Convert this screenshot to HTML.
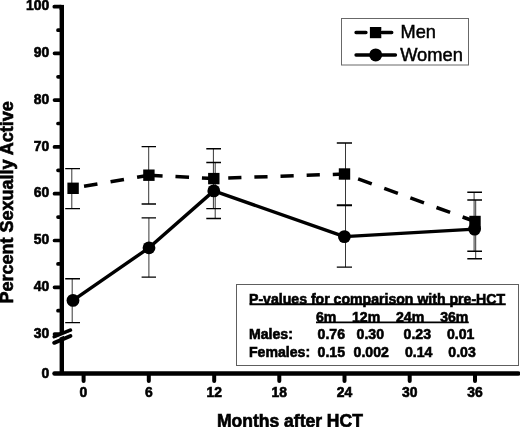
<!DOCTYPE html>
<html>
<head>
<meta charset="utf-8">
<title>Percent Sexually Active</title>
<style>
html,body{margin:0;padding:0;background:#fff;}
body{width:520px;height:427px;overflow:hidden;}
svg{display:block;font-family:"Liberation Sans",sans-serif;}
.b{font-weight:bold;}
</style>
</head>
<body>
<svg width="520" height="427" viewBox="0 0 520 427" style="filter:grayscale(1) blur(0.35px)">
<rect x="0" y="0" width="520" height="427" fill="#fff"/>

<!-- error bars -->
<path d="M71.8 168.6V208.6M148.7 146.6V204M213.4 148.7V208.6M345.5 143V204.9M474.1 192.2V251.3M72.2 278.7V322.6M148.9 217.9V277.1M215.2 162.5V218.5M345.5 205.6V267.1M475.7 200V258.8" stroke="#2c2c2c" stroke-width="0.95" fill="none"/>
<path d="M65.2 168.6H80M65.2 208.6H80M141.6 146.6H156M141.6 204H156M206.3 148.7H221M206.3 208.6H221M336.8 143H352M336.8 204.9H352M467.3 192.2H482M467.3 251.3H482M65.2 278.7H80M65.2 322.6H80M141.6 217.9H156M141.6 277.1H156M206.3 162.5H221M206.3 218.5H221M336.8 205.6H352M336.8 267.1H352M467.3 200H482M467.3 258.8H482" stroke="#000" stroke-width="1.4" fill="none"/>

<!-- lines -->
<g fill="none" stroke="#000" stroke-width="3.5">
  <path d="M73 188.2L149 175.2" stroke-dasharray="13.6 13.3" stroke-dashoffset="15.7"/>
  <path d="M149 175.2L213.7 178.5" stroke-dasharray="13.6 12.9" stroke-dashoffset="0"/>
  <path d="M213.7 178.5L344.5 174" stroke-dasharray="13.2 12.95" stroke-dashoffset="11.6"/>
  <path d="M344.5 174L475 221.5" stroke-dasharray="14.5 13.3" stroke-dashoffset="13.3"/>
</g>
<polyline points="73,300.4 149,247.8 213.8,190.9 344.4,236.6 474.6,229.1" fill="none" stroke="#000" stroke-width="3.4" stroke-linejoin="round"/>

<!-- markers -->
<g fill="#000">
  <rect x="67.4" y="182.6" width="11.4" height="11.4"/>
  <rect x="143.2" y="169.5" width="11.4" height="11.4"/>
  <rect x="208.1" y="172.9" width="11.4" height="11.4"/>
  <rect x="338.8" y="168.3" width="11.4" height="11.4"/>
  <rect x="469.3" y="215.8" width="11.4" height="11.4"/>
  <circle cx="73" cy="300.4" r="6.4"/>
  <circle cx="149" cy="247.8" r="6.4"/>
  <circle cx="213.8" cy="190.9" r="6.4"/>
  <circle cx="344.4" cy="236.6" r="6.4"/>
  <circle cx="474.6" cy="229.1" r="6.4"/>
</g>

<!-- axes -->
<g stroke="#000" fill="none" stroke-linecap="round">
  <!-- y axis -->
  <path d="M61.8 6.5V373.5" stroke-width="4.4" stroke-linecap="butt"/>
  <path d="M61.8 4.9V10" stroke-width="4.4" stroke-linecap="butt"/>
  <!-- x axis -->
  <path d="M54.5 373.55H518.4" stroke-width="4.5"/>
  <!-- y major ticks -->
  <g stroke-width="3.7">
    <path d="M54.3 6.7H61M54.5 53.3H61M54.5 100.1H61M54.5 146.9H61M54.5 193.7H61M54.5 240.5H61M54.5 287.3H61M54.5 334H61"/>
    <!-- minor -->
    <path d="M58 30.2H61M58 76.8H61M58 123.5H61M58 170.3H61M58 217.1H61M58 263.9H61M58 310.7H61"/>
    <!-- x ticks -->
    <path d="M83.6 375V381M148.8 375V381M214.2 375V381M279.3 375V381M344.5 375V381M409.7 375V381M475 375V381" stroke-width="4"/>
  </g>
  <!-- break -->
  <path d="M54.4 336.8 L70.3 330.4" stroke-width="4"/>
  <path d="M54.2 342.8 L70.4 336" stroke-width="4"/>
</g>
<path d="M51 340.5 L73 331.5" stroke="#fff" stroke-width="1.1" fill="none"/>

<!-- y labels -->
<g class="b" font-size="13.9" text-anchor="end" fill="#000" stroke="#000" stroke-width="0.6">
  <text x="49.3" y="9.7">100</text>
  <text x="49.3" y="57">90</text>
  <text x="49.3" y="103.8">80</text>
  <text x="49.3" y="150.6">70</text>
  <text x="49.3" y="197.4">60</text>
  <text x="49.3" y="244.2">50</text>
  <text x="49.3" y="291">40</text>
  <text x="49.3" y="337.7">30</text>
  <text x="49.3" y="377.6">0</text>
</g>
<!-- x labels -->
<g class="b" font-size="13.9" text-anchor="middle" fill="#000" stroke="#000" stroke-width="0.6">
  <text x="83.4" y="396.6">0</text>
  <text x="148.8" y="396.6">6</text>
  <text x="214.2" y="396.6">12</text>
  <text x="279.3" y="396.6">18</text>
  <text x="344.5" y="396.6">24</text>
  <text x="409.7" y="396.6">30</text>
  <text x="475" y="396.6">36</text>
</g>

<!-- axis titles -->
<text class="b" font-size="17.5" x="217" y="427" stroke="#000" stroke-width="0.65">Months after HCT</text>
<text class="b" font-size="18" text-anchor="middle" transform="translate(13.2,202.4) rotate(-90)" stroke="#000" stroke-width="0.65">Percent Sexually Active</text>

<!-- legend -->
<rect x="341.5" y="18.5" width="127" height="46.5" fill="#fff" stroke="#686868" stroke-width="1"/>
<path d="M356 32.5H366M382 32.5H391.8" stroke="#000" stroke-width="3.3" stroke-linecap="round" fill="none"/>
<rect x="369.9" y="27" width="11.4" height="11.2" fill="#000"/>
<path d="M356 55H395.5" stroke="#000" stroke-width="3.3" stroke-linecap="round" fill="none"/>
<circle cx="375.7" cy="54.9" r="6.5" fill="#000"/>
<text font-size="18.2" x="400.5" y="38.4" stroke="#000" stroke-width="0.5">Men</text>
<text font-size="18.3" x="400.2" y="61.1" stroke="#000" stroke-width="0.5">Women</text>

<!-- p-value box -->
<rect x="236.5" y="284.5" width="282" height="81" fill="#fff" stroke="#5e5e5e" stroke-width="1"/>
<g class="b" font-size="14.1" fill="#000" stroke="#000" stroke-width="0.6">
  <text x="249" y="303.8">P-values for comparison with pre-HCT</text>
  <text x="316" y="321.6">6m</text>
  <text x="352" y="321.6">12m</text>
  <text x="396" y="321.6">24m</text>
  <text x="440.2" y="321.6">36m</text>
  <text x="249" y="339.3">Males:</text>
  <text x="317.6" y="339.3">0.76</text>
  <text x="356.6" y="339.3">0.30</text>
  <text x="403.6" y="339.3">0.23</text>
  <text x="447" y="339.3">0.01</text>
  <text x="249" y="356.6">Females:</text>
  <text x="317.6" y="356.6">0.15</text>
  <text x="353.6" y="356.6">0.002</text>
  <text x="405" y="356.6">0.14</text>
  <text x="448.3" y="356.6">0.03</text>
</g>
<g stroke="#000" stroke-width="1.9" fill="none">
  <path d="M249.5 304.2H505.8"/>
  <path d="M316 322.4H468.8"/>
</g>
</svg>
</body>
</html>
